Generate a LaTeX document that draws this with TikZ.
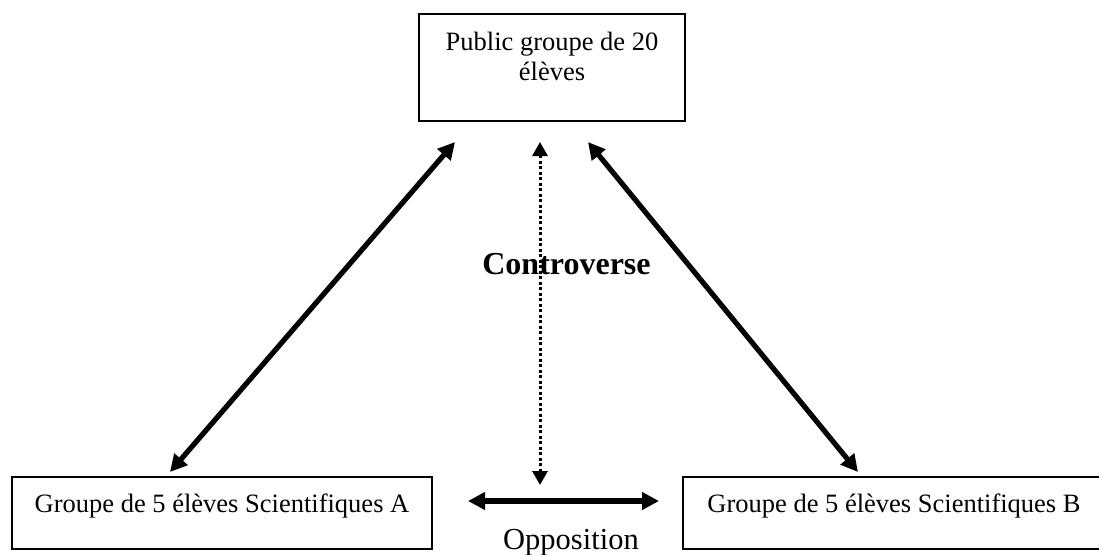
\documentclass[tikz,border=0pt]{standalone}
\usepackage{fontspec}
\setmainfont{Liberation Serif}
\usetikzlibrary{arrows.meta}
\begin{document}
\begin{tikzpicture}[x=1pt,y=-1pt,
  box/.style={draw, line width=2.4pt, rectangle, inner sep=0pt, outer sep=0pt, anchor=north west},
  lbl/.style={inner sep=0pt, anchor=base, font=\fontsize{26.5pt}{30pt}\selectfont},
  bigarrow/.style={line width=5.2pt, {Triangle[length=17pt,width=17pt]}-{Triangle[length=17pt,width=17pt]}},
  dotarrow/.style={line width=3pt, dash pattern=on 3pt off 2.5pt, {Triangle[length=14pt,width=15pt]}-{Triangle[length=14pt,width=15pt]}}]
\useasboundingbox (0,0) rectangle (1099,554);

% boxes
\node[box, minimum width=266pt, minimum height=107pt] (pub) at (419,14) {};
\node[box, minimum width=420pt, minimum height=72pt] (ga) at (12,477) {};
\node[box, minimum width=419pt, minimum height=72pt] (gb) at (683,477) {};

% box texts
\node[lbl] (pub1) at (552,50) {Public groupe de 20};
\node[lbl] (pub2) at (552,80) {élèves};
\node[lbl] (gat) at (222,512) {Groupe de 5 élèves Scientifiques A};
\node[lbl] (gbt) at (894,512) {Groupe de 5 élèves Scientifiques B};

% free labels
\node[inner sep=0pt, anchor=base, font=\bfseries\fontsize{32pt}{36pt}\selectfont] (contro) at (566.5,274) {Controverse};
\node[inner sep=0pt, anchor=base, font=\fontsize{30.5pt}{34pt}\selectfont] (oppo) at (571,549) {Opposition};

% arrow end points
\coordinate (pubSW) at (455,142);
\coordinate (pubS)  at (540,142);
\coordinate (pubSE) at (588,142);
\coordinate (gaN)   at (170,472);
\coordinate (gbN)   at (858,472);
\coordinate (mid)   at (540,485);
\coordinate (oppL)  at (468,501);
\coordinate (oppR)  at (659,501);

% connectors
\draw[bigarrow] (gaN) -- (pubSW);
\draw[bigarrow] (gbN) -- (pubSE);
\draw[bigarrow] (oppL) -- (oppR);
\draw[dotarrow] (mid) -- (pubS);
\end{tikzpicture}
\end{document}
